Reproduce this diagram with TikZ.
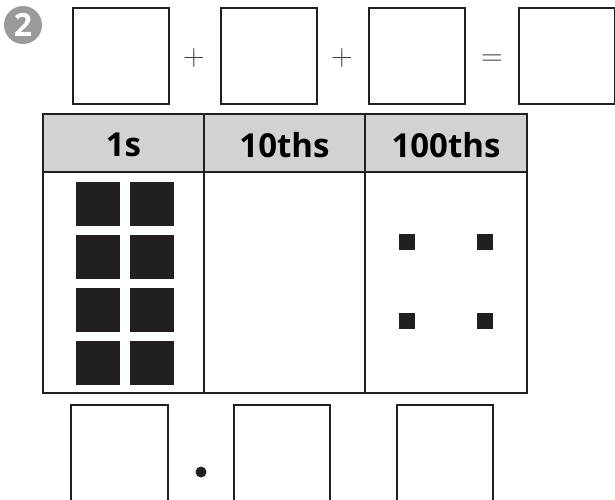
\documentclass[tikz,border=0pt]{standalone}
\usepackage{fontspec}
\newfontfamily\headfont{Open Sans}
\definecolor{ink}{HTML}{231F20}
\definecolor{hdr}{HTML}{D1D2D4}
\definecolor{badge}{HTML}{9A9A9C}
\begin{document}
\begin{tikzpicture}[x=1pt,y=-1pt,
  ansbox/.style={draw=ink,line width=2pt,minimum width=96pt,minimum height=96pt,inner sep=0pt,anchor=north west},
  opsign/.style={text=ink!85,font=\fontsize{30}{30}\selectfont,inner sep=0pt},
  block/.style={fill=ink,draw=none,minimum size=44pt,inner sep=0pt,anchor=north west},
  dot/.style={fill=ink,draw=none,minimum size=16pt,inner sep=0pt,anchor=north west},
  tline/.style={draw=ink,line width=2.2pt},
  htext/.style={font=\headfont\bfseries\fontsize{33}{33}\selectfont,text=black,inner sep=0pt}]
\useasboundingbox (0,0) rectangle (615,500);
% badge
\node[circle,fill=badge,minimum size=38pt,inner sep=0pt,text=white,font=\headfont\bfseries\fontsize{32}{32}\selectfont] (badge) at (23,25) {2};
% top equation boxes
\node[ansbox] (t1) at (72,7) {};
\node[ansbox] (t2) at (220,7) {};
\node[ansbox] (t3) at (368,7) {};
\node[ansbox] (t4) at (518,7) {};
\node[opsign] (p1) at (194,58) {+};
\node[opsign] (p2) at (342,58) {+};
\node[opsign] (eq) at (492,60) {=};
% table
\fill[hdr] (43,114) rectangle (527,172);
\draw[tline] (43,114) rectangle (527,393);
\draw[tline] (43,172) -- (527,172);
\draw[tline] (204,114) -- (204,393);
\draw[tline] (365,114) -- (365,393);
\node[htext] (h1) at (123.5,145) {1s};
\node[htext] (h2) at (284.5,145) {10ths};
\node[htext] (h3) at (446,145) {100ths};
% ones blocks
\foreach \r/\y in {1/182,2/235,3/288,4/341}{
  \node[block] (oa\r) at (76,\y) {};
  \node[block] (ob\r) at (130,\y) {};
}
% hundredths dots
\node[dot] (d1) at (399,234) {};
\node[dot] (d2) at (477,234) {};
\node[dot] (d3) at (399,313) {};
\node[dot] (d4) at (477,313) {};
% bottom boxes (cut at picture edge)
\draw[draw=ink,line width=2pt] (71,502) -- (71,405) -- (168,405) -- (168,502);
\draw[draw=ink,line width=2pt] (234,502) -- (234,405) -- (330,405) -- (330,502);
\draw[draw=ink,line width=2pt] (397,502) -- (397,405) -- (493,405) -- (493,502);
\node[circle,fill=ink,minimum size=11pt,inner sep=0pt] (pt) at (201,472) {};
\end{tikzpicture}
\end{document}
